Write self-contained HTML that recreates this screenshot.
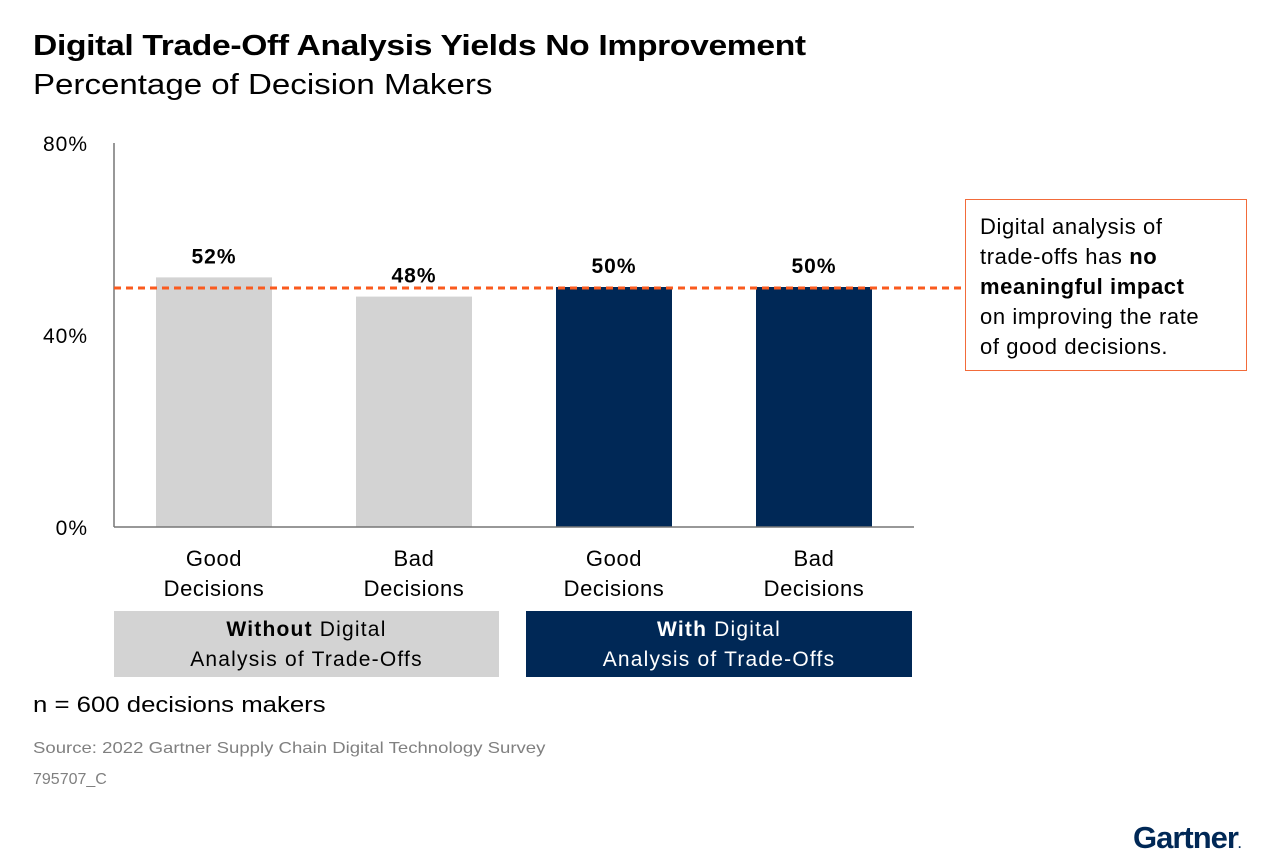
<!DOCTYPE html>
<html><head><meta charset="utf-8"><style>
body{margin:0;width:1280px;height:866px;background:#fff;font-family:"Liberation Sans",sans-serif;position:relative;overflow:hidden;color:#000}
.abs{position:absolute}
.sx{transform-origin:left top}
</style></head><body>
<div class="abs sx" style="left:33px;top:30px;font-size:29px;font-weight:bold;letter-spacing:-0.3px;transform:scaleX(1.16);white-space:nowrap">Digital Trade-Off Analysis Yields No Improvement</div>
<div class="abs sx" style="left:33px;top:69px;font-size:29px;transform:scaleX(1.14);white-space:nowrap">Percentage of Decision Makers</div>
<svg class="abs" style="left:0;top:0" width="1280" height="866">
<g id="g"></g>
</svg>
<div class="abs" style="left:114px;top:611px;width:385px;height:66px;background:#d3d3d3;text-align:center;font-size:21px;line-height:30px;padding-top:4px;box-sizing:border-box;letter-spacing:1.2px"><b>Without</b> Digital<br>Analysis of Trade-Offs</div>
<div class="abs" style="left:526px;top:611px;width:386px;height:66px;background:#002856;color:#fff;text-align:center;font-size:21px;line-height:30px;padding-top:4px;box-sizing:border-box;letter-spacing:1.2px"><b>With</b> Digital<br>Analysis of Trade-Offs</div>
<div class="abs" style="left:965px;top:199px;width:282px;height:172px;border:1.5px solid #f26b3a;box-sizing:border-box;padding:12px 14px;font-size:22px;line-height:30px;white-space:nowrap;letter-spacing:0.6px">Digital analysis of<br>trade-offs has <b>no</b><br><b>meaningful impact</b><br>on improving the rate<br>of good decisions.</div>
<div class="abs sx" style="left:33px;top:692px;font-size:22px;transform:scaleX(1.17);white-space:nowrap">n = 600 decisions makers</div>
<div class="abs sx" style="left:33px;top:740px;font-size:16px;color:#808080;transform:scaleX(1.16);white-space:nowrap">Source: 2022 Gartner Supply Chain Digital Technology Survey</div>
<div class="abs" style="left:33px;top:771px;font-size:16px;color:#808080">795707_C</div>
<div class="abs" style="left:1133px;top:820px;font-size:31px;font-weight:bold;color:#002856;letter-spacing:-1px">Gartner<span style="font-size:12px">.</span></div>
<script>
const categories=["Good|Decisions","Bad|Decisions","Good|Decisions","Bad|Decisions"];
const values=[52,48,50,50];
const colors=["#d3d3d3","#d3d3d3","#002856","#002856"];
const tickValues=[0,40,80];
const refValue=50;
const NS="http://www.w3.org/2000/svg",g=document.getElementById('g');
const y=v=>527-v*4.8, x=i=>114+i*200+42;
function el(t,a,txt){const e=document.createElementNS(NS,t);for(const k in a)e.setAttribute(k,a[k]);if(txt!=null)e.textContent=txt;g.appendChild(e);return e;}
tickValues.forEach(t=>{const e=el('text',{x:88,y:y(t)+8,'text-anchor':'end','font-size':21,'font-family':'Liberation Sans','letter-spacing':1},t+'%');

});
values.forEach((v,i)=>{const r=el('rect',{x:x(i),y:y(v),width:116,height:y(0)-y(v),fill:colors[i]});


const l=el('text',{x:x(i)+58,y:y(v)-14,'text-anchor':'middle','font-size':21,'font-weight':'bold','font-family':'Liberation Sans','letter-spacing':1},v+'%');


categories[i].split('|').forEach((s,j)=>{const c=el('text',{x:x(i)+58,y:566+j*30,'text-anchor':'middle','font-size':22,'font-family':'Liberation Sans','letter-spacing':0.6},s);

});});
const ya=el('line',{x1:114,y1:y(80),x2:114,y2:y(0),stroke:'#777','stroke-width':1.5});


const xa=el('line',{x1:114,y1:y(0),x2:914,y2:y(0),stroke:'#777','stroke-width':1.5});


const rl=el('line',{x1:114,y1:y(refValue)+1,x2:965,y2:y(refValue)+1,stroke:'#fa5a1e','stroke-width':3,'stroke-dasharray':'7 5'});


</script>
</body></html>
